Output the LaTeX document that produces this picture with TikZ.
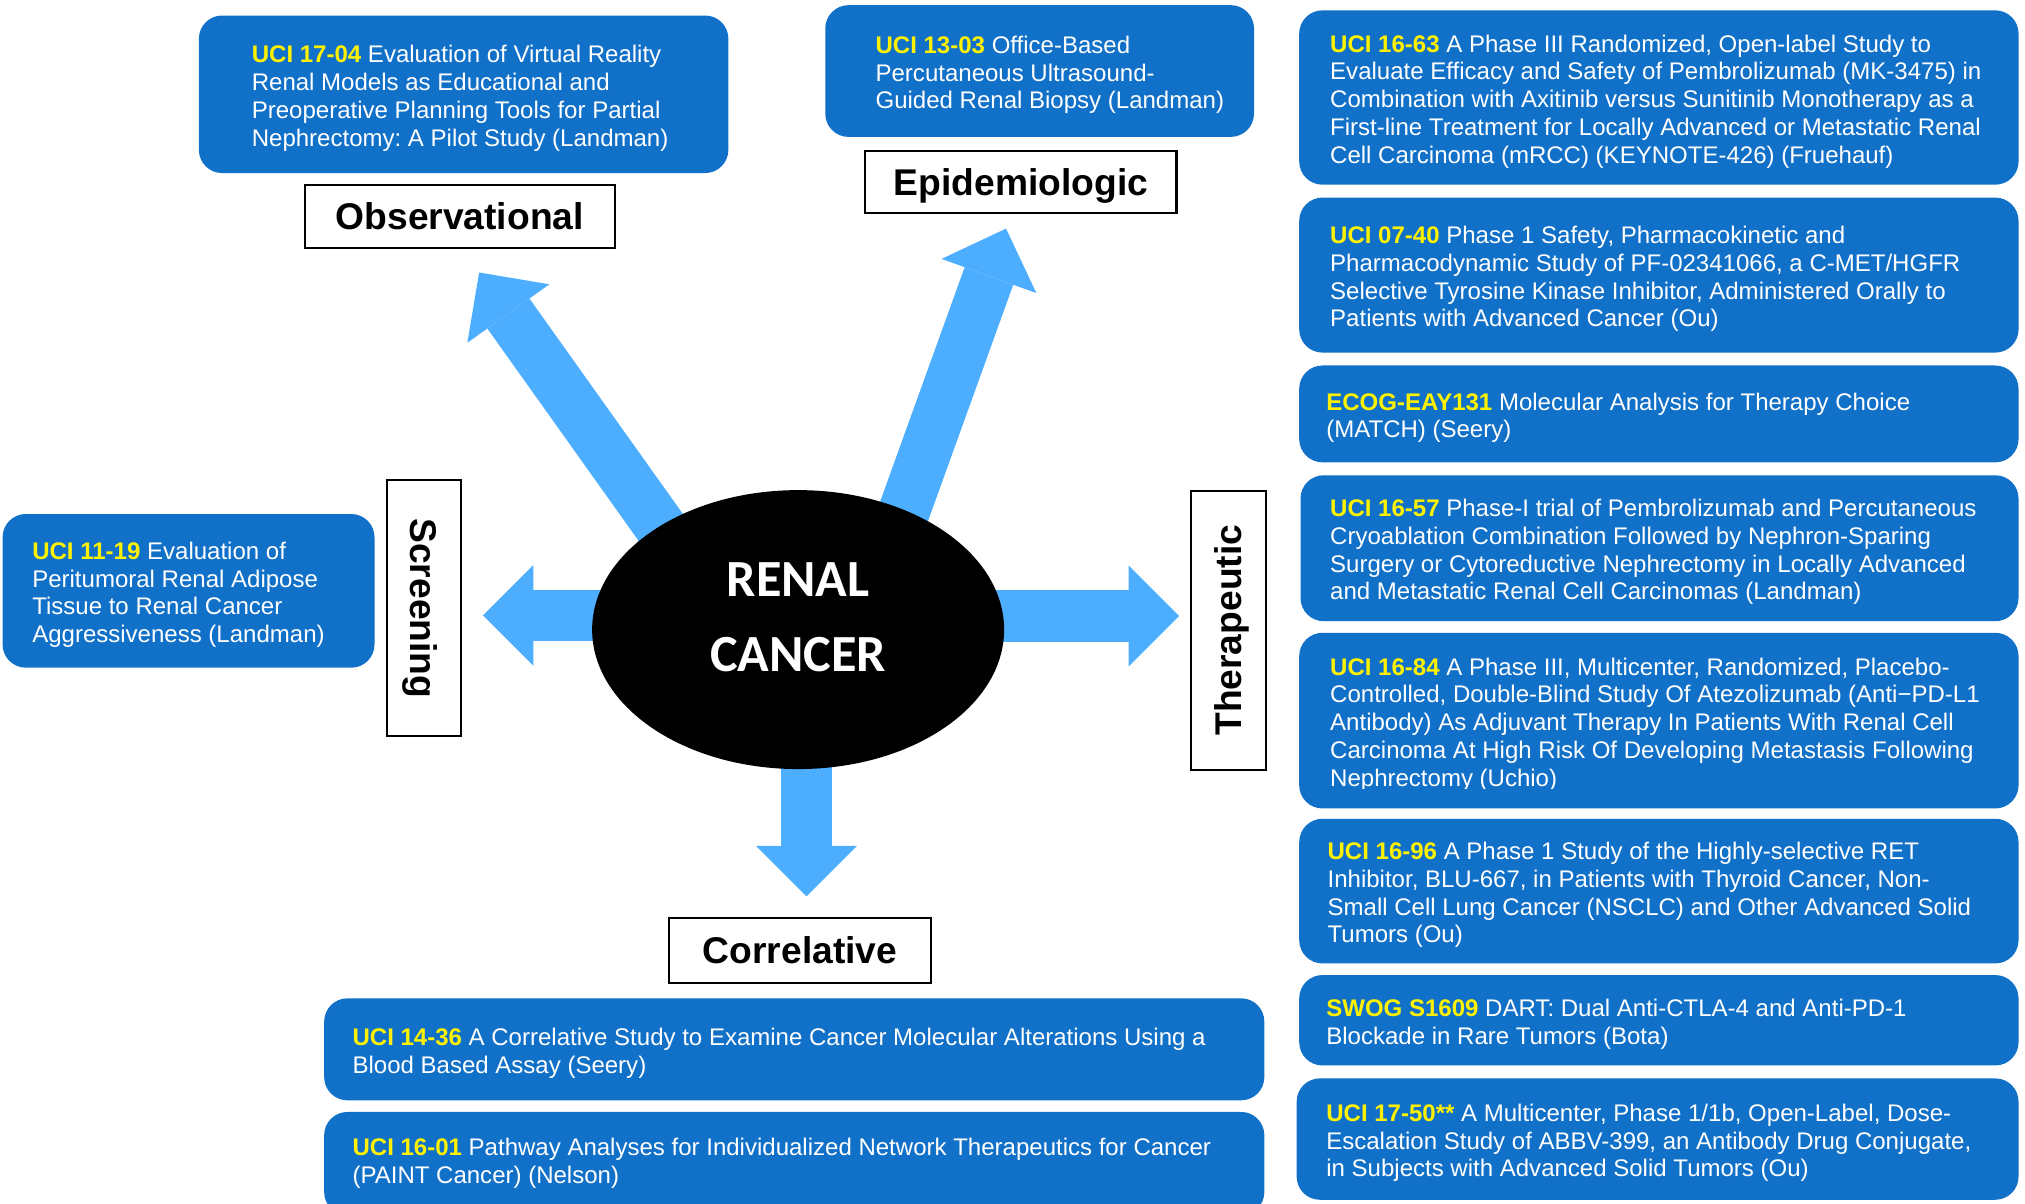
\documentclass[tikz,border=0pt]{standalone}
\usepackage{fontspec}
\setmainfont{Liberation Sans}
\newfontfamily\calibrifont{Carlito}
\usepackage{tikz}
\usetikzlibrary{arrows.meta, positioning, shapes.geometric, calc, backgrounds}
\definecolor{trialblue}{HTML}{1170C8}
\definecolor{arrowblue}{HTML}{4DAEFF}
\newcommand{\trialid}[1]{\textcolor{yellow}{\textbf{#1}}}
\frenchspacing

\begin{document}
\begin{tikzpicture}[x=0.5pt, y=-0.5pt,
      b/.style={fill=trialblue, rounded corners=9pt, inner sep=0pt},
      bt/.style={inner sep=0pt, yshift=-1.5pt, align=left, text=white, font=\fontsize{9.3}{10.75}\selectfont},
      c/.style={draw, line width=0.8pt, inner sep=0pt, text height=10.4pt, text depth=0pt,
        font=\bfseries\fontsize{14.4}{17}\selectfont},
      f/.style={arrowblue, line width=20pt, -{Triangle[length=19.5pt, width=39pt, line width=0pt]}}]
    \useasboundingbox (0,0) rectangle (1568,932);

    \node[ellipse, fill=black, minimum width=159.5pt, minimum height=108pt, inner sep=0pt] (rc) at (618,487.5) {};
    \node[text=white, align=center, font=\calibrifont\bfseries\fontsize{20.2}{29}\selectfont] (rc text)
      at ($(rc.center)+(0,-9.7)$) {RENAL\\CANCER};

    \node[c, minimum width=120pt, minimum height=24.5pt] (obs) at (356,167.5) {Observational};
    \node[c, minimum width=120.5pt, minimum height=24pt] (epi) at (790.5,141) {Epidemiologic};
    \node[c, rotate=-90, minimum width=99pt, minimum height=28.5pt] (scr) at (328.5,471) {Screening};
    \node[c, rotate=90, minimum width=108pt, minimum height=29pt] (ther) at (951,488) {Therapeutic};
    \node[c, minimum width=101.5pt, minimum height=25pt] (corr) at (619.5,736) {Correlative};

    \coordinate (obs from) at ($(rc.center)+(-50,0)$);
    \coordinate (obs to) at (371,211);
    \coordinate (epi from) at ($(rc.center)+(49,0)$);
    \coordinate (epi to) at (779,177);
    \coordinate (scr from) at ($(rc.center)+(0,-11)$);
    \coordinate (scr to) at (374,476.5);
    \coordinate (ther from) at ($(rc.center)+(0,-10.5)$);
    \coordinate (ther to) at (913,477);
    \coordinate (corr from) at ($(rc.center)+(6.5,0)$);
    \coordinate (corr to) at (624.5,694);
    \begin{scope}[on background layer]
      \draw[f] (obs from) -- (obs to);
      \draw[f] (epi from) -- (epi to);
      \draw[f] (scr from) -- (scr to);
      \draw[f] (ther from) -- (ther to);
      \draw[f] (corr from) -- (corr to);
    \end{scope}

    \node[b, minimum width=205pt, minimum height=61pt] (t1704) at (359,73) {};
    \node[bt, right=20.5pt of t1704.west] (t1704 text) {\trialid{UCI 17-04} Evaluation of Virtual Reality\\
      Renal Models as Educational and\\Preoperative Planning Tools for Partial\\Nephrectomy: A Pilot Study (Landman)};
    \node[b, minimum width=166pt, minimum height=51pt] (t1303) at (805,55) {};
    \node[bt, right=19.5pt of t1303.west] (t1303 text) {\trialid{UCI 13-03} Office-Based\\
      Percutaneous Ultrasound-\\Guided Renal Biopsy (Landman)};
    \node[b, minimum width=144pt, minimum height=59.5pt] (t1119) at (146,457.5) {};
    \node[bt, right=11.5pt of t1119.west] (t1119 text) {\trialid{UCI 11-19} Evaluation of\\
      Peritumoral Renal Adipose\\Tissue to Renal Cancer\\Aggressiveness (Landman)};
    \node[b, minimum width=364pt, minimum height=39.5pt] (t1436) at (615,812.5) {};
    \node[bt, right=11pt of t1436.west] (t1436 text) {\trialid{UCI 14-36} A Correlative Study to Examine Cancer Molecular Alterations Using a\\
      Blood Based Assay (Seery)};
    \node[b, minimum width=364pt, minimum height=40pt] (t1601) at (615,901) {};
    \node[bt, yshift=1.5pt, right=11pt of t1601.west] (t1601 text) {\trialid{UCI 16-01} Pathway Analyses for Individualized Network Therapeutics for Cancer\\
      (PAINT Cancer) (Nelson)};

    \node[b, minimum width=278.5pt, minimum height=67.5pt] (t1663) at (1284.5,75.5) {};
    \node[bt, right=12pt of t1663.west] (t1663 text) {\trialid{UCI 16-63} A Phase III Randomized, Open-label Study to\\
      Evaluate Efficacy and Safety of Pembrolizumab (MK-3475) in\\
      Combination with Axitinib versus Sunitinib Monotherapy as a\\
      First-line Treatment for Locally Advanced or Metastatic Renal\\
      Cell Carcinoma (mRCC) (KEYNOTE-426) (Fruehauf)};
    \node[b, minimum width=278.5pt, minimum height=60pt] (t0740) at (1284.5,213) {};
    \node[bt, right=12pt of t0740.west] (t0740 text) {\trialid{UCI 07-40} Phase 1 Safety, Pharmacokinetic and\\
      Pharmacodynamic Study of PF-02341066, a C-MET/HGFR\\
      Selective Tyrosine Kinase Inhibitor, Administered Orally to\\
      Patients with Advanced Cancer (Ou)};
    \node[b, minimum width=278.5pt, minimum height=37.5pt] (tecog) at (1284.5,320.5) {};
    \node[bt, right=10.5pt of tecog.west] (tecog text) {\trialid{ECOG-EAY131} Molecular Analysis for Therapy Choice\\
      (MATCH) (Seery)};
    \node[b, minimum width=278pt, minimum height=56.5pt] (t1657) at (1285,424.5) {};
    \node[bt, right=11.5pt of t1657.west] (t1657 text) {\trialid{UCI 16-57} Phase-I trial of Pembrolizumab and Percutaneous\\
      Cryoablation Combination Followed by Nephron-Sparing\\
      Surgery or Cytoreductive Nephrectomy in Locally Advanced\\
      and Metastatic Renal Cell Carcinomas (Landman)};
    \node[b, minimum width=278.5pt, minimum height=68pt] (t1684) at (1284.5,558) {};
    \begin{scope}
      \clip (1006,490) rectangle (1563,610.5);
      \node[bt, right=12pt of t1684.west] (t1684 text) {\trialid{UCI 16-84} A Phase III, Multicenter, Randomized, Placebo-\\
        Controlled, Double-Blind Study Of Atezolizumab (Anti−PD-L1\\
        Antibody) As Adjuvant Therapy In Patients With Renal Cell\\
        Carcinoma At High Risk Of Developing Metastasis Following\\
        Nephrectomy (Uchio)};
    \end{scope}
    \node[b, minimum width=278.5pt, minimum height=56pt] (t1696) at (1284.5,690) {};
    \node[bt, right=11pt of t1696.west] (t1696 text) {\trialid{UCI 16-96} A Phase 1 Study of the Highly-selective RET\\
      Inhibitor, BLU-667, in Patients with Thyroid Cancer, Non-\\
      Small Cell Lung Cancer (NSCLC) and Other Advanced Solid\\
      Tumors (Ou)};
    \node[b, minimum width=278.5pt, minimum height=35pt] (tswog) at (1284.5,790) {};
    \node[bt, right=10.5pt of tswog.west] (tswog text) {\trialid{SWOG S1609} DART: Dual Anti-CTLA-4 and Anti-PD-1\\
      Blockade in Rare Tumors (Bota)};
    \node[b, minimum width=279.5pt, minimum height=47pt] (t1750) at (1283.5,882) {};
    \node[bt, right=11.5pt of t1750.west] (t1750 text) {\trialid{UCI 17-50**} A Multicenter, Phase 1/1b, Open-Label, Dose-\\
      Escalation Study of ABBV-399, an Antibody Drug Conjugate,\\
      in Subjects with Advanced Solid Tumors (Ou)};
  \end{tikzpicture}
\end{document}
